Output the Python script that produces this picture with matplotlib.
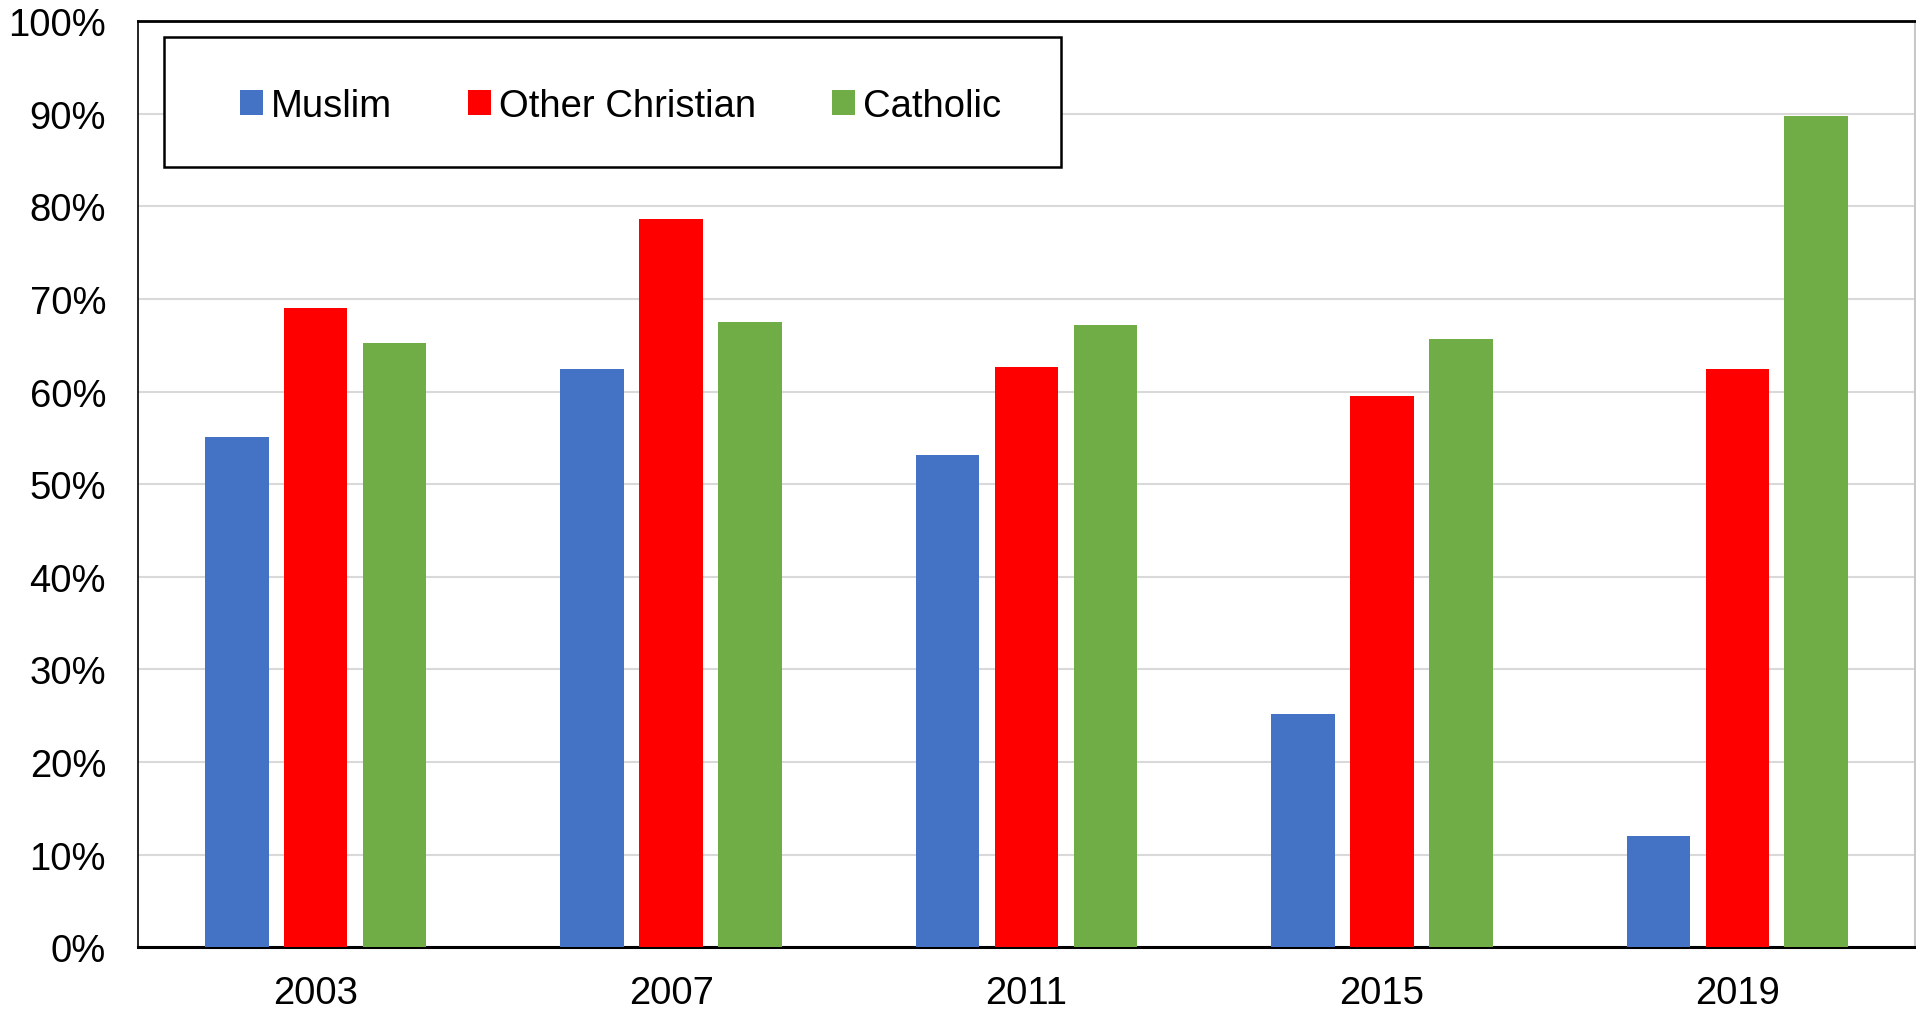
import numpy as np
import matplotlib
matplotlib.use("Agg")
import matplotlib.pyplot as plt
from matplotlib.ticker import PercentFormatter
from matplotlib.patches import Rectangle

# Datos
years = ["2003", "2007", "2011", "2015", "2019"]
muslim = [55.1, 62.5, 53.2, 25.2, 12.0]
other_christian = [69.0, 78.6, 62.7, 59.5, 62.4]
catholic = [65.3, 67.5, 67.2, 65.7, 89.8]

series = ["Muslim", "Other Christian", "Catholic"]
colors = ["#4472C4", "#FF0000", "#70AD47"]

plt.rcParams['font.family'] = ['Liberation Sans', 'DejaVu Sans']

fig = plt.figure(figsize=(19.16, 10.12), dpi=100)
ax = fig.add_axes([0.072, 0.063, 0.9275, 0.915])

x = np.arange(len(years))
width = 0.179
offset = 0.222
for i, (name, vals, c) in enumerate(zip(series, [muslim, other_christian, catholic], colors)):
    ax.bar(x + (i - 1) * offset, vals, width, color=c, label=name, zorder=3)

ax.set_xlim(-0.5, len(years) - 0.5)
ax.set_ylim(0, 100)
ax.set_yticks(np.arange(0, 101, 10))
ax.yaxis.set_major_formatter(PercentFormatter(decimals=0))
ax.set_xticks(x)
ax.set_xticklabels(years)
ax.tick_params(axis='y', length=0, pad=23, labelsize=27.5)
ax.tick_params(axis='x', length=0, pad=20, labelsize=27.5)

ax.grid(axis='y', color='#d9d9d9', linewidth=1.5, zorder=0)
ax.set_axisbelow(True)

ax.spines['left'].set_linewidth(1.2)
ax.spines['bottom'].set_linewidth(2.2)
ax.spines['top'].set_linewidth(2.0)
ax.spines['right'].set_color('#c8c8c8')
ax.spines['right'].set_linewidth(1.5)

# Caja de la leyenda
box = Rectangle((0.0146, 0.843), 0.505, 0.14, transform=ax.transAxes,
                facecolor='white', edgecolor='black', linewidth=1.8, zorder=4)
ax.add_patch(box)

leg = ax.legend(loc='center', bbox_to_anchor=(0.2715, 0.9085), ncol=3,
                fontsize=27.5, frameon=False, borderaxespad=0, borderpad=0,
                handlelength=0.6, handleheight=0.6, handletextpad=0.2,
                columnspacing=2.0)
leg.set_zorder(5)

fig.savefig("out.png", dpi=100)
